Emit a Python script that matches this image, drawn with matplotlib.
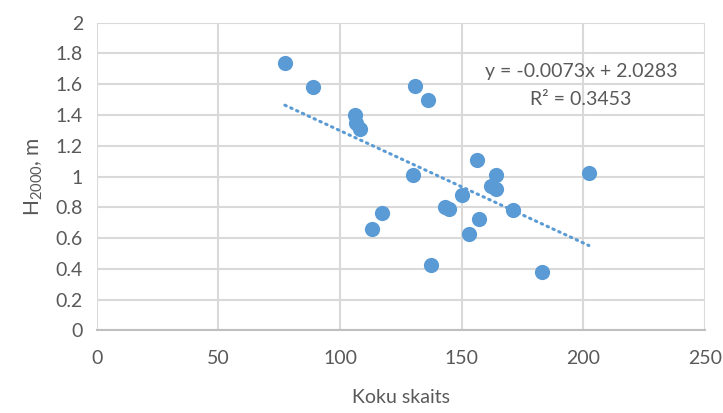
import numpy as np
import matplotlib
matplotlib.use('Agg')
import matplotlib.pyplot as plt

plt.rcParams['font.family'] = ['Lato', 'DejaVu Sans']

# koku skaits un augstums
koki = [77.3, 88.9, 106.2, 106.6, 108.3, 131.0, 136.3, 129.9, 156.3, 164.1,
        162.2, 164.1, 150.0, 143.0, 144.9, 171.0, 157.3, 153.2, 117.4, 113.2,
        137.4, 183.2, 202.3]
h2000 = [1.74, 1.58, 1.40, 1.35, 1.31, 1.59, 1.50, 1.01, 1.11, 1.01,
         0.94, 0.92, 0.88, 0.80, 0.79, 0.78, 0.725, 0.625, 0.766, 0.66,
         0.426, 0.38, 1.025]

# trenda līnija
slope = -0.0073
intercept = 2.0283
r2 = 0.3453

teksts = '#595959'
zils = '#5B9BD5'

fig = plt.figure(figsize=(7.23, 4.13), dpi=100)
ax = fig.add_axes([0.134, 0.2, 0.841, 0.745])

ax.scatter(koki, h2000, s=120, color=zils, zorder=3, linewidths=0)

xt = np.array([min(koki), max(koki)])
ax.plot(xt, slope * xt + intercept, color=zils, lw=2.2, linestyle=(0, (0.5, 1.6)),
        dash_capstyle='round', zorder=2)

ax.text(199, 1.68, f'y = {slope}x + {intercept}', ha='center', va='center',
        fontsize=14, color=teksts)
ax.text(199, 1.50, f'R² = {r2}', ha='center', va='center',
        fontsize=14, color=teksts)

ax.set_xlim(0, 250)
ax.set_ylim(0, 2)
ax.set_xticks(np.arange(0, 251, 50))
ax.set_yticks(np.round(np.arange(0, 2.01, 0.2), 1))
ax.set_yticklabels(['0', '0.2', '0.4', '0.6', '0.8', '1', '1.2', '1.4', '1.6', '1.8', '2'])
ax.grid(True, color='#D9D9D9', lw=1.5)
ax.set_axisbelow(True)
for s in ['top', 'right', 'left']:
    ax.spines[s].set_visible(False)
ax.spines['bottom'].set_color('#BFBFBF')
ax.spines['bottom'].set_linewidth(1.5)
ax.tick_params(length=0, labelsize=14, labelcolor=teksts, pad=14)
ax.tick_params(axis='y', pad=10)

ax.set_xlabel('Koku skaits', fontsize=14, color=teksts, labelpad=16)
ax.set_ylabel(r'$\mathregular{H_{2000}}$, m', fontsize=15, color=teksts, labelpad=8)

fig.savefig('out.png', dpi=100)
